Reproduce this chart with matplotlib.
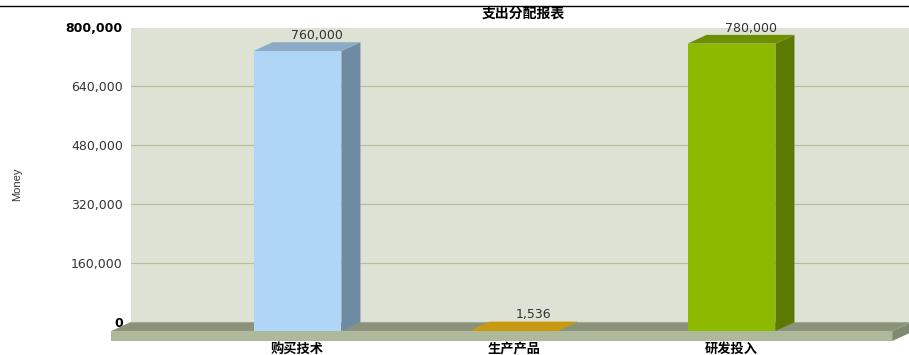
import matplotlib
matplotlib.use("Agg")
import matplotlib.pyplot as plt
from matplotlib.lines import Line2D
from matplotlib.patches import Polygon

categories = ['购买技术', '生产产品', '研发投入']
values = [760000, 1536, 780000]
value_labels = ['760,000', '1,536', '780,000']
y_ticks = [0, 160000, 320000, 480000, 640000, 800000]
y_tick_labels = ['0', '160,000', '320,000', '480,000', '640,000', '800,000']
front_colors = ['#b0d6f7', '#c79a12', '#8db900']
side_colors = ['#6f8ba3', '#c79a12', '#5c7a00']
top_colors = ['#8aaac6', '#c79a12', '#6e9000']

W, H = 909, 355
plt.rcParams['font.family'] = ['DejaVu Sans', 'Noto Sans CJK SC']

# fake 3D depth of the chart, in axis units
bar_width = 0.405
depth_x = 0.0876
depth_y = 23800
slab = 27000
floor_left, floor_right = -0.858, 2.742

fig = plt.figure(figsize=(W / 100, H / 100), dpi=100)
ax = fig.add_axes([130.5 / W, 1 - 322.2 / H, (W - 130.5) / W, 294.7 / H])
ax.set_xlim((130.5 - 297.5) / 217, (W - 297.5) / 217)
ax.set_ylim(0, 800000)
ax.set_facecolor('#dde2d5')
for s in ax.spines.values():
    s.set_visible(False)

ax.set_yticks(y_ticks)
ax.set_yticklabels(y_tick_labels, fontsize=9, color='#333333')
ax.tick_params(axis='y', length=0, pad=5.5)
ax.grid(axis='y', color='#b2bf99', linewidth=0.8)
ax.set_axisbelow(True)
ax.get_ygridlines()[-1].set_visible(False)
for lab in (ax.get_yticklabels()[0], ax.get_yticklabels()[-1]):
    lab.set_fontweight('bold')
    lab.set_color('black')

ax.set_xticks(range(len(categories)))
ax.set_xticklabels(categories, family=['Noto Sans CJK SC'], fontweight='bold', fontsize=9.5)
ax.tick_params(axis='x', length=0, pad=14)


def add_poly(points, color, z):
    ax.add_patch(Polygon(points, closed=True, facecolor=color, edgecolor='none', clip_on=False, zorder=z))


# floor and its front slab
add_poly([(floor_left, -depth_y), (floor_left + depth_x, 0), (floor_right + depth_x, 0), (floor_right, -depth_y)], '#8a9379', 3)
add_poly([(floor_left, -depth_y), (floor_right, -depth_y), (floor_right, -depth_y - slab), (floor_left, -depth_y - slab)], '#adb99a', 3)
add_poly([(floor_right, -depth_y), (floor_right + depth_x, 0), (floor_right + depth_x, -slab), (floor_right, -depth_y - slab)], '#7f8a72', 3)

for i, v in enumerate(values):
    x0 = i - bar_width / 2
    x1 = i + bar_width / 2
    ax.bar(i, v, width=bar_width, bottom=-depth_y, color=front_colors[i], zorder=5, clip_on=False)
    add_poly([(x1, -depth_y), (x1 + depth_x, 0), (x1 + depth_x, v), (x1, v - depth_y)], side_colors[i], 4)
    add_poly([(x0, v - depth_y), (x0 + depth_x, v), (x1 + depth_x, v), (x1, v - depth_y)], top_colors[i], 4)
    ax.annotate(value_labels[i], (i + depth_x, v - depth_y), xytext=(0, 11.2), textcoords='offset points',
                ha='center', va='center', fontsize=9, color='#333333', zorder=6, annotation_clip=False)

fig.text(523 / W, 1 - 13.5 / H, '支出分配报表', family=['Noto Sans CJK SC'], fontweight='bold',
         fontsize=10, ha='center', va='center')
fig.text(17 / W, 1 - 184 / H, 'Money', family=['Liberation Sans'], fontsize=8,
         rotation=90, ha='center', va='center', color='#333333')
fig.add_artist(Line2D([0, 1], [1 - 6 / H, 1 - 6 / H], color='black', linewidth=1))

fig.savefig('out.png', dpi=100)
